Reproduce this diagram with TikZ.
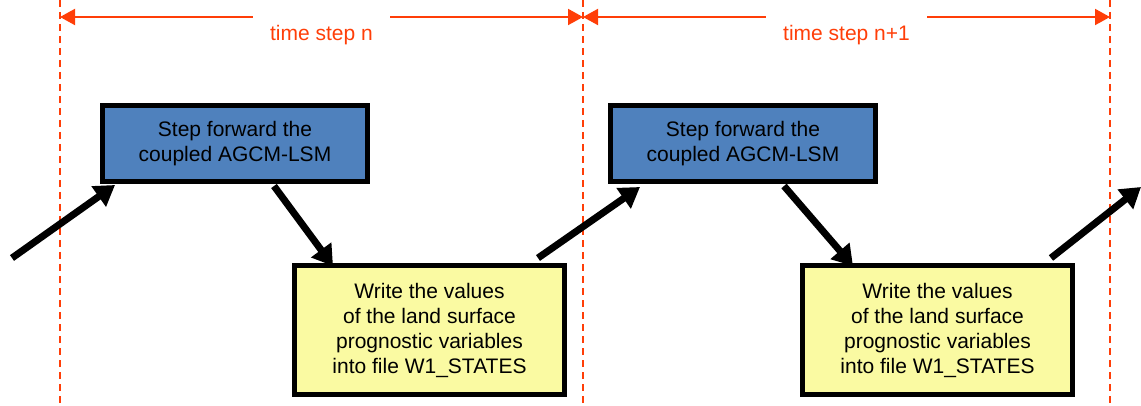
\documentclass[tikz,border=0pt]{standalone}
\usepackage{fontspec}
\setmainfont{Liberation Sans}
\usepackage{tikz}
\usetikzlibrary{positioning,arrows.meta}

\definecolor{stepred}{RGB}{255,62,8}
\definecolor{modelblue}{RGB}{79,129,189}
\definecolor{fileyellow}{RGB}{250,250,162}

\begin{document}
\begin{tikzpicture}[
  x=1pt, y=-1pt,
  modelnode/.style={rectangle, draw=black, line width=5pt, fill=modelblue, minimum width=265pt, minimum height=76pt, align=center, font=\fontsize{21}{25}\selectfont},
  filenode/.style={rectangle, draw=black, line width=5pt, fill=fileyellow, minimum width=270pt, minimum height=129pt, align=center, font=\fontsize{21}{25}\selectfont},
  labelnode/.style={rectangle, inner xsep=17pt, inner ysep=0pt, anchor=base, text=stepred, font=\fontsize{21}{25}\selectfont},
  boundary/.style={draw=stepred, line width=1.5pt, dash pattern=on 7pt off 5pt},
  span/.style={draw=stepred, line width=2pt, -{Triangle[length=15pt,width=16pt]}},
  flow/.style={draw=black, line width=7pt, -{Triangle[length=20pt,width=24pt]}}
  ]
  \useasboundingbox (0,0) rectangle (1141,406);

  % Time step boundaries
  \foreach \x/\n in {60/0, 583/1, 1110/2} {
    \coordinate (t\n) at (\x,17);
    \draw[boundary] (\x,0) -- (\x,406);
  }

  % Time step labels
  \node[labelnode]  (step1)   at (321.5,41)   {time step n};
  \node[labelnode]  (step2)   at (846.5,41)   {time step n+1};
  \draw[span] (step1.west |- t0) -- (t0);
  \draw[span] (step1.east |- t1) -- (t1);
  \draw[span] (step2.west |- t1) -- (t1);
  \draw[span] (step2.east |- t2) -- (t2);

  % Model and output boxes
  \node[modelnode]  (model1)  at (235,143.5)               {Step forward the\\coupled AGCM-LSM};
  \node[filenode]   (file1)   at (429.5,330)               {Write the values\\of the land surface\\prognostic variables\\into file W1\_STATES};
  \node[modelnode]  (model2)  [right=238pt of model1]      {Step forward the\\coupled AGCM-LSM};
  \node[filenode]   (file2)   [right=233pt of file1]       {Write the values\\of the land surface\\prognostic variables\\into file W1\_STATES};

  % Flow arrows
  \coordinate (entry) at (12,258);
  \coordinate (exit)  at (1141,187);
  \draw[flow] (entry) -- ([xshift=15pt,yshift=-1pt]model1.south west);
  \draw[flow] ([xshift=39pt,yshift=-2pt]model1.south) -- ([xshift=41pt,yshift=-3pt]file1.north west);
  \draw[flow] ([xshift=-29pt,yshift=5pt]file1.north east) -- ([xshift=32pt,yshift=-3pt]model2.south west);
  \draw[flow] ([xshift=41pt,yshift=-2pt]model2.south) -- ([xshift=53pt,yshift=-3pt]file2.north west);
  \draw[flow] ([xshift=-24pt,yshift=5pt]file2.north east) -- (exit);

\end{tikzpicture}
\end{document}
